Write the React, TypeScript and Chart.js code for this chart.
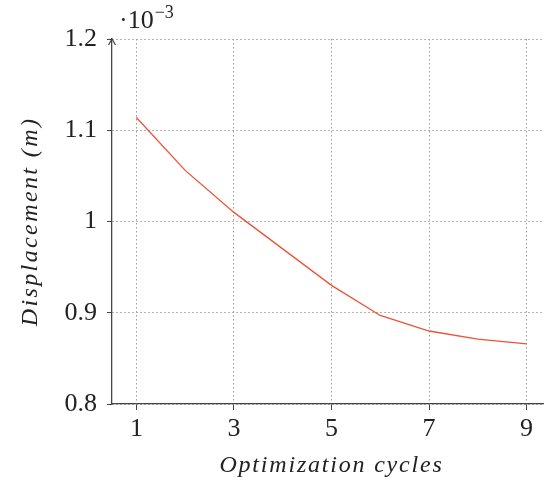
import React, { useEffect, useRef } from "react";
import { Chart, registerables } from "chart.js";

Chart.register(...registerables);

// ---- data ----
const cycles = [1, 2, 3, 4, 5, 6, 7, 8, 9];
const displacement = [1.114, 1.056, 1.01, 0.97, 0.93, 0.897, 0.88, 0.871, 0.866];
const xTicks = [1, 3, 5, 7, 9];
const yTicks = [0.8, 0.9, 1.0, 1.1, 1.2];
const yTickLabels = ["0.8", "0.9", "1", "1.1", "1.2"];
const xTitle = "Optimization cycles";
const yTitle = "Displacement (m)";
const exponentBase = "·10";
const exponentPower = "−3";

const SERIF = "'Liberation Serif', 'Times New Roman', serif";
const TEXT = "#222";
const AXIS = "#444";

const decorPlugin = {
  id: "decor",
  afterDraw(chart: any) {
    const ctx = chart.ctx as CanvasRenderingContext2D;
    const { left, top, right, bottom } = chart.chartArea;
    ctx.save();
    // arrow head on y axis
    ctx.strokeStyle = AXIS;
    ctx.lineWidth = 1.2;
    ctx.setLineDash([]);
    ctx.beginPath();
    ctx.moveTo(left - 3.5, top + 6);
    ctx.lineTo(left, top);
    ctx.lineTo(left + 3.5, top + 6);
    ctx.stroke();

    ctx.fillStyle = TEXT;
    // exponent label
    ctx.textAlign = "left";
    ctx.textBaseline = "alphabetic";
    ctx.font = `26px ${SERIF}`;
    ctx.fillText(exponentBase, left + 7, top - 11);
    const w = ctx.measureText(exponentBase).width;
    ctx.font = `18px ${SERIF}`;
    ctx.fillText(exponentPower, left + 7 + w + 1, top - 21);

    // axis titles
    (ctx as any).letterSpacing = "1.8px";
    ctx.font = `italic 24px ${SERIF}`;
    ctx.textAlign = "center";
    ctx.fillText(xTitle, (left + right) / 2, 472);

    (ctx as any).letterSpacing = "2.4px";
    ctx.translate(37, (top + bottom) / 2);
    ctx.rotate(-Math.PI / 2);
    ctx.fillText(yTitle, 0, 0);
    ctx.restore();
  },
};

export default function App() {
  const ref = useRef<HTMLCanvasElement>(null);

  useEffect(() => {
    if (!ref.current) return;
    const chart = new Chart(ref.current, {
      type: "line",
      data: {
        datasets: [
          {
            data: cycles.map((x, i) => ({ x, y: displacement[i] })),
            borderColor: "#ef5136",
            borderWidth: 1.3,
            pointRadius: 0,
            tension: 0,
            fill: false,
          },
        ],
      },
      options: {
        responsive: false,
        animation: false,
        devicePixelRatio: 1,
        layout: { padding: { top: 39, left: 0, right: 9, bottom: 0 } },
        plugins: { legend: { display: false }, tooltip: { enabled: false } },
        scales: {
          x: {
            type: "linear",
            min: 0.5,
            max: 9.5,
            afterBuildTicks: (s: any) => {
              s.ticks = xTicks.map((v) => ({ value: v }));
            },
            afterFit: (s: any) => {
              s.height = 78;
            },
            ticks: {
              font: { family: SERIF, size: 26 },
              color: TEXT,
              padding: 4,
              maxRotation: 0,
              autoSkip: false,
              callback: (v: any) => String(v),
            },
            grid: { color: "#9a9a9a", lineWidth: 1, tickColor: AXIS, tickLength: 6, drawTicks: true },
            border: { display: true, color: AXIS, width: 1.3, dash: [1.5, 2.5] },
          },
          y: {
            type: "linear",
            min: 0.8,
            max: 1.2,
            afterBuildTicks: (s: any) => {
              s.ticks = yTicks.map((v) => ({ value: v }));
            },
            afterFit: (s: any) => {
              s.width = 112;
            },
            ticks: {
              font: { family: SERIF, size: 26 },
              color: TEXT,
              padding: 10,
              autoSkip: false,
              callback: (v: any) => {
                const i = yTicks.findIndex((t) => Math.abs(t - Number(v)) < 1e-9);
                return i >= 0 ? yTickLabels[i] : "";
              },
            },
            grid: { color: "#9a9a9a", lineWidth: 1, tickColor: AXIS, tickLength: 5, drawTicks: true },
            border: { display: true, color: AXIS, width: 1.3, dash: [1.5, 2.5] },
          },
        },
      },
      plugins: [decorPlugin],
    } as any);
    return () => chart.destroy();
  }, []);

  return (
    <div
      style={{
        position: "fixed",
        left: 0,
        top: 0,
        width: 544,
        height: 482,
        overflow: "hidden",
        background: "#fff",
      }}
    >
      <canvas ref={ref} width={560} height={482} style={{ display: "block", width: 560, height: 482 }} />
    </div>
  );
}
